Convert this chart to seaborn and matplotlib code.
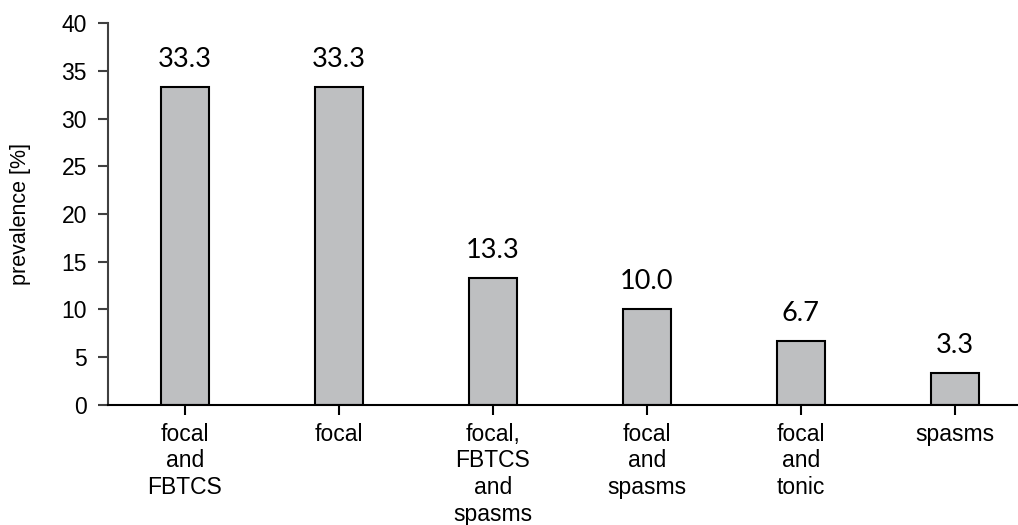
import matplotlib
matplotlib.use("Agg")
import matplotlib.pyplot as plt
import seaborn as sns
import pandas as pd

categories = [
    "focal\nand\nFBTCS",
    "focal",
    "focal,\nFBTCS\nand\nspasms",
    "focal\nand\nspasms",
    "focal\nand\ntonic",
    "spasms",
]
prevalence = [33.3, 33.3, 13.3, 10.0, 6.7, 3.3]
y_ticks = [0, 5, 10, 15, 20, 25, 30, 35, 40]

sns.set_theme(style="white")
plt.rcParams["font.family"] = ["Liberation Sans", "DejaVu Sans"]

df = pd.DataFrame({"type": categories, "prevalence": prevalence})

fig = plt.figure(figsize=(10.18, 5.25), dpi=100)
ax = fig.add_axes([0.106, 0.229, 0.894, 0.727])

sns.barplot(data=df, x="type", y="prevalence", order=categories,
            color="#bebfc1", saturation=1, width=0.31,
            edgecolor="black", linewidth=1.5, ax=ax)

for c in ax.containers:
    ax.bar_label(c, labels=[f"{v:.1f}" for v in prevalence], padding=11,
                 fontsize=19.5, family=["Lato", "DejaVu Sans"], color="black")

ax.set_ylim(0, 40)
ax.set_yticks(y_ticks)
ax.set_xlim(-0.5, 5.41)
ax.set_xlabel("")
ax.set_ylabel("prevalence [%]", fontsize=15.5, labelpad=22, color="black")

for side in ["top", "right"]:
    ax.spines[side].set_visible(False)
ax.spines["bottom"].set_color("black")
ax.spines["bottom"].set_linewidth(1.5)
ax.spines["left"].set_color("#404040")
ax.spines["left"].set_linewidth(1.5)

ax.tick_params(axis="both", direction="out", length=7, width=1.5,
               color="black", labelsize=16.5, labelcolor="black",
               bottom=True, left=True)
ax.tick_params(axis="y", pad=8, color="#404040")
ax.tick_params(axis="x", pad=6)
for lbl in ax.get_xticklabels():
    lbl.set_linespacing(1.2)

fig.savefig("out.png", dpi=100)
